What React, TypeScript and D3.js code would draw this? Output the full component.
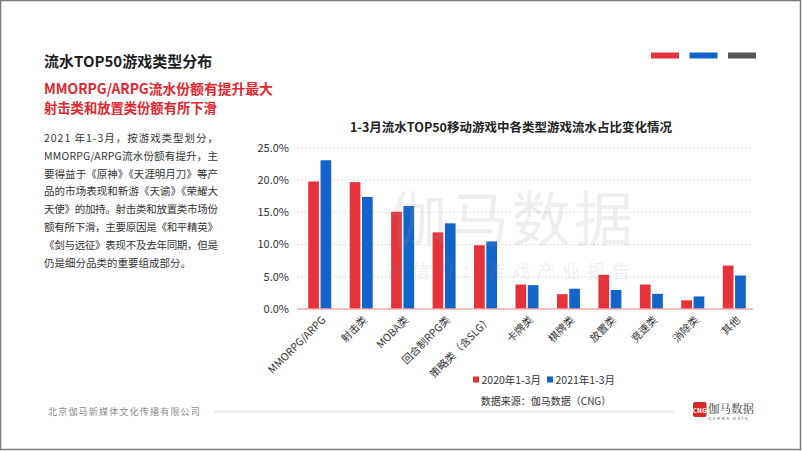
import React, { useEffect, useRef } from 'react'
import * as d3 from 'd3'

const categories = ['MMORPG/ARPG', '射击类', 'MOBA类', '回合制RPG类', '策略类（含SLG）', '卡牌类', '棋牌类', '放置类', '竞速类', '消除类', '其他']
const series2020 = [19.8, 19.7, 15.1, 11.9, 9.9, 3.8, 2.3, 5.3, 3.8, 1.35, 6.75]
const series2021 = [23.1, 17.4, 16.0, 13.3, 10.5, 3.7, 3.15, 2.95, 2.35, 1.95, 5.2]
const seriesNames = ['2020年1-3月', '2021年1-3月']
const yTicks = [0, 5, 10, 15, 20, 25]

const bodyLines = [
  '2021 年1-3月，按游戏类型划分，',
  'MMORPG/ARPG流水份额有提升，主',
  '要得益于《原神》《天涯明月刀》等产',
  '品的市场表现和新游《天谕》《荣耀大',
  '天使》的加持。射击类和放置类市场份',
  '额有所下滑，主要原因是《和平精英》',
  '《剑与远征》表现不及去年同期，但是',
  '仍是细分品类的重要组成部分。',
]

const RED = '#e5323b'
const BLUE = '#1264c8'
const FONT = '"Noto Sans CJK SC", "Noto Sans", sans-serif'

function App() {
  const svgRef = useRef<SVGSVGElement>(null)

  useEffect(() => {
    document.body.style.margin = '0'
    const svg = d3.select(svgRef.current)
    svg.selectAll('*').remove()
    svg.style('font-family', FONT)

    const width = 802
    const height = 451

    // frame
    svg.append('rect')
      .attr('x', 0.5).attr('y', 0.5)
      .attr('width', width - 2).attr('height', height - 2)
      .attr('fill', '#fff').attr('stroke', '#7a7a7a').attr('stroke-width', 1.5)

    // header decor bars
    const decor = ['#e5323b', '#1264c8', '#555555']
    decor.forEach((c, i) => {
      svg.append('rect')
        .attr('x', 651 + i * 38.5).attr('y', 52.5)
        .attr('width', 28).attr('height', 6)
        .attr('fill', c)
    })

    // left texts
    svg.append('text')
      .attr('x', 44).attr('y', 67)
      .attr('font-size', 15).attr('font-weight', 'bold').attr('fill', '#1e1e1e')
      .text('流水TOP50游戏类型分布')

    svg.append('text')
      .attr('x', 44).attr('y', 94)
      .attr('font-size', 13.8).attr('font-weight', 'bold').attr('fill', '#e3262d')
      .text('MMORPG/ARPG流水份额有提升最大')
    svg.append('text')
      .attr('x', 44).attr('y', 112.5)
      .attr('font-size', 13.3).attr('font-weight', 'bold').attr('fill', '#e3262d')
      .text('射击类和放置类份额有所下滑')

    bodyLines.forEach((line, i) => {
      const t = svg.append('text')
        .attr('x', 44).attr('y', 142 + i * 17.8)
        .attr('font-size', 10.5).attr('fill', '#333')
        .text(line)
      if (i < bodyLines.length - 1) {
        t.attr('textLength', 174).attr('lengthAdjust', 'spacing')
      }
    })

    // chart
    const x = d3.scaleBand<string>()
      .domain(categories)
      .range([299, 755])
      .paddingInner(0.445)
      .paddingOuter(0.2225)

    const x1 = d3.scaleBand<string>()
      .domain(seriesNames)
      .range([0, x.bandwidth()])
      .paddingInner(0.13)

    const y = d3.scaleLinear().domain([0, 25]).range([309, 148])

    svg.append('text')
      .attr('x', 511).attr('y', 132)
      .attr('text-anchor', 'middle')
      .attr('font-size', 12.5).attr('font-weight', 'bold').attr('fill', '#222')
      .text('1-3月流水TOP50移动游戏中各类型游戏流水占比变化情况')

    // grid
    const grid = svg.append('g')
    yTicks.filter(d => d > 0).forEach(d => {
      grid.append('line')
        .attr('x1', 297).attr('x2', 753)
        .attr('y1', y(d)).attr('y2', y(d))
        .attr('stroke', '#d6d6d6').attr('stroke-width', 1)
        .attr('stroke-dasharray', '1.5,2.5')
    })

    // y labels
    yTicks.forEach(d => {
      svg.append('text')
        .attr('x', 289).attr('y', y(d))
        .attr('dy', '0.35em')
        .attr('text-anchor', 'end')
        .attr('font-size', 11).attr('fill', '#333')
        .text(d3.format('.1f')(d) + '%')
    })

    // bars
    const groups = svg.append('g')
      .selectAll('g')
      .data(categories)
      .enter().append('g')
      .attr('transform', d => `translate(${x(d)},0)`)

    groups.each(function (_c, i) {
      const g = d3.select(this)
      const vals = [series2020[i], series2021[i]]
      vals.forEach((v, j) => {
        g.append('rect')
          .attr('x', x1(seriesNames[j]) as number)
          .attr('y', y(v))
          .attr('width', x1.bandwidth())
          .attr('height', y(0) - y(v))
          .attr('fill', j === 0 ? RED : BLUE)
      })
    })

    // baseline
    svg.append('line')
      .attr('x1', 297).attr('x2', 753)
      .attr('y1', y(0)).attr('y2', y(0))
      .attr('stroke', '#f2a9ad').attr('stroke-width', 1.5)

    // x labels
    categories.forEach(c => {
      const cx = (x(c) as number) + x.bandwidth() / 2 + 4
      svg.append('text')
        .attr('transform', `translate(${cx},${318}) rotate(-45)`)
        .attr('text-anchor', 'end')
        .attr('dy', '0.35em')
        .attr('font-size', 10.5).attr('fill', '#333')
        .text(c)
    })

    // watermark
    svg.append('text')
      .attr('x', 512).attr('y', 241)
      .attr('text-anchor', 'middle')
      .attr('font-size', 59).attr('fill', '#9a9a9a').attr('opacity', 0.16)
      .attr('letter-spacing', 3)
      .text('伽马数据')
    svg.append('text')
      .attr('x', 512).attr('y', 278)
      .attr('text-anchor', 'middle')
      .attr('font-size', 18).attr('fill', '#9a9a9a').attr('opacity', 0.15)
      .attr('letter-spacing', 7)
      .text('微信号：游戏产业报告')

    // legend
    seriesNames.forEach((s, i) => {
      const lx = 473 + i * 74
      svg.append('rect')
        .attr('x', lx).attr('y', 376.5)
        .attr('width', 6).attr('height', 6)
        .attr('fill', i === 0 ? RED : BLUE)
      svg.append('text')
        .attr('x', lx + 8.5).attr('y', 383.5)
        .attr('font-size', 10.5).attr('fill', '#333')
        .text(s)
    })

    svg.append('text')
      .attr('x', 546).attr('y', 404.5)
      .attr('text-anchor', 'middle')
      .attr('font-size', 10).attr('fill', '#333')
      .text('数据来源：伽马数据（CNG）')

    // footer
    svg.append('text')
      .attr('x', 48).attr('y', 415)
      .attr('font-size', 9).attr('fill', '#8a8a8a')
      .attr('letter-spacing', 1.2)
      .text('北京伽马新媒体文化传播有限公司')
    svg.append('line')
      .attr('x1', 214).attr('x2', 675)
      .attr('y1', 411.5).attr('y2', 411.5)
      .attr('stroke', '#ececec').attr('stroke-width', 2)

    // logo
    svg.append('rect')
      .attr('x', 693).attr('y', 402)
      .attr('width', 13.5).attr('height', 15)
      .attr('rx', 2)
      .attr('fill', '#d42a2a')
    svg.append('text')
      .attr('x', 699.75).attr('y', 412.5)
      .attr('text-anchor', 'middle')
      .attr('font-size', 6.5).attr('font-weight', 'bold').attr('fill', '#fff')
      .text('CNG')
    svg.append('text')
      .attr('x', 708).attr('y', 413)
      .attr('font-size', 11.5).attr('fill', '#333')
      .attr('font-family', '"Noto Serif CJK SC", "Noto Sans CJK SC", serif')
      .text('伽马数据')
    svg.append('text')
      .attr('x', 708.5).attr('y', 419.5)
      .attr('font-size', 4).attr('fill', '#555')
      .attr('letter-spacing', 1.6)
      .text('GAMMA DATA')
  }, [])

  return (
    <svg
      ref={svgRef}
      width={802}
      height={451}
      style={{ display: 'block' }}
    />
  )
}

export default App
